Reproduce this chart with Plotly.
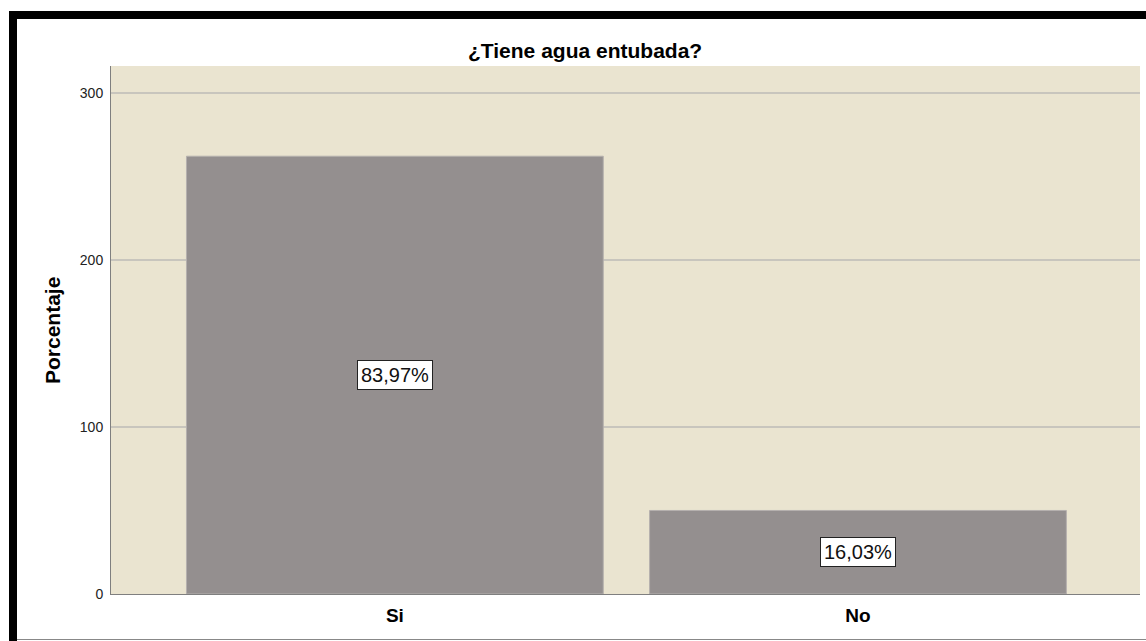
import plotly.graph_objects as go

categories = ["Si", "No"]
counts = [262, 50]
percent_labels = ["83,97%", "16,03%"]
title_text = "¿Tiene agua entubada?"
y_title = "Porcentaje"
y_ticks = [0, 100, 200, 300]

W, H = 1146, 641
ML, MR, MT, MB = 111, 6, 66, 47
PW = W - ML - MR
PH = H - MT - MB
FONT = "Liberation Sans, Arial, sans-serif"

def px_x(p):
    return (p - ML) / PW

def px_y(p):
    return (H - MB - p) / PH

fig = go.Figure()
fig.add_trace(go.Bar(
    x=categories, y=counts, width=0.9,
    marker=dict(color="#948F8F", line=dict(color="#B5B0AE", width=1)),
    hoverinfo="skip",
))

for c, v, lab in zip(categories, counts, percent_labels):
    fig.add_annotation(
        x=c, y=v / 2, text=lab, showarrow=False, xanchor="center", yanchor="middle",
        font=dict(family=FONT, size=20, color="#111111"),
        bgcolor="white", bordercolor="#222222", borderwidth=1, borderpad=3,
    )

fig.add_annotation(
    x=px_x(585), y=px_y(50), xref="paper", yref="paper", text="<b>" + title_text + "</b>",
    xanchor="center", yanchor="middle",
    showarrow=False, font=dict(family=FONT, size=21, color="black"),
)

fig.add_annotation(
    x=px_x(52), y=px_y(331), xref="paper", yref="paper", text="<b>" + y_title + "</b>",
    xanchor="center", yanchor="middle",
    showarrow=False, textangle=-90, font=dict(family=FONT, size=21, color="black"),
)

shapes = [
    dict(type="rect", xref="paper", yref="paper", x0=px_x(9), x1=px_x(17), y0=px_y(641), y1=px_y(11),
         fillcolor="black", line=dict(width=0), layer="above"),
    dict(type="rect", xref="paper", yref="paper", x0=px_x(9), x1=px_x(1146), y0=px_y(19), y1=px_y(11),
         fillcolor="black", line=dict(width=0), layer="above"),
    dict(type="line", xref="paper", yref="paper", x0=px_x(17), x1=px_x(1146), y0=px_y(639.5), y1=px_y(639.5),
         line=dict(color="#888888", width=1), layer="above"),
]

fig.update_layout(
    width=W, height=H,
    margin=dict(l=ML, r=MR, t=MT, b=MB),
    paper_bgcolor="white",
    plot_bgcolor="#EAE4D0",
    showlegend=False,
    shapes=shapes,
    xaxis=dict(
        range=[-0.613, 1.609], showgrid=False, showline=True, linecolor="#7F7F7F", linewidth=1,
        ticks="", tickfont=dict(family=FONT, size=19, color="black"),
        tickvals=[0, 1], ticktext=["<b>" + c + "</b>" for c in categories],
        ticklabelstandoff=4, fixedrange=True,
    ),
    yaxis=dict(
        range=[0, 316], tickvals=y_ticks, showgrid=True, gridcolor="#C8C5BD", gridwidth=1.5,
        showline=True, linecolor="#7F7F7F", linewidth=1, zeroline=False, ticks="",
        tickfont=dict(family=FONT, size=14, color="#222222"), ticklabelstandoff=4,
        fixedrange=True,
    ),
)

fig.write_html("out.html", config={"displayModeBar": False},
               post_script="document.body.style.margin='0px';document.body.style.overflow='hidden';")
